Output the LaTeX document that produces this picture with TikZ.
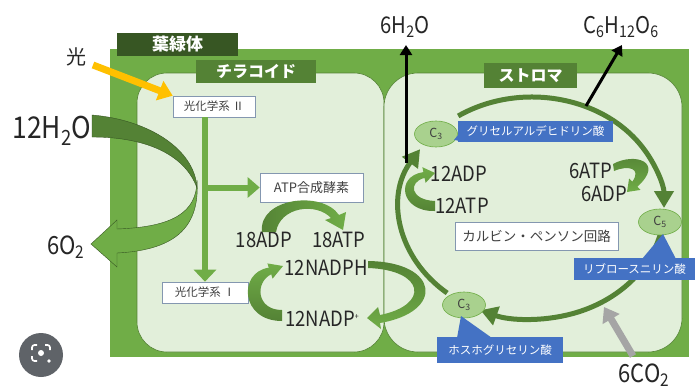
\documentclass[tikz,border=0pt]{standalone}
\usepackage{fontspec}
\setmainfont{Noto Sans CJK JP}
\newfontfamily\fm[FakeStretch=0.88]{Noto Sans CJK JP}
\usetikzlibrary{arrows.meta,calc,shapes.geometric}
\definecolor{gOuter}{HTML}{70AD47}
\definecolor{gDark}{HTML}{548235}
\definecolor{gDeep}{HTML}{375623}
\definecolor{gPale}{HTML}{E2EFDA}
\definecolor{gC}{HTML}{A9D18E}
\definecolor{bLab}{HTML}{4472C4}
\definecolor{txt}{HTML}{262626}
\definecolor{boxtxt}{HTML}{404040}
\definecolor{boxline}{HTML}{8497B0}
\definecolor{sun}{HTML}{FFC000}
\definecolor{coGray}{HTML}{A5A5A5}
\definecolor{lens}{HTML}{5F6368}
\tikzset{
  fml/.style={text=txt, inner sep=0pt, font=\fm\fontsize{#1}{#1}\selectfont},
  wbox/.style={draw=boxline, fill=white, line width=0.6pt, inner sep=0pt, text=boxtxt},
  greentag/.style={fill=#1, text=white, inner sep=0pt, font=\bfseries\fontsize{16}{16}\selectfont},
  bluetag/.style={fill=bLab, text=white, inner sep=0pt, font=\fontsize{11.5}{11.5}\selectfont},
  cnode/.style={ellipse, fill=gC, draw=gOuter, line width=0.6pt, minimum width=43pt, minimum height=26pt, inner sep=0pt, text=boxtxt, font=\fontsize{12.5}{12.5}\selectfont},
  cyc/.style={draw=gDark, line width=5pt, -{Triangle[length=17pt,width=19pt]}},
  gline/.style={draw=gOuter, line width=6pt},
  blk/.style={draw=black, line width=3pt, -{Triangle[length=10pt,width=12pt]}},
}
\begin{document}
\begin{tikzpicture}[x=1pt,y=-1pt]
\useasboundingbox (0,0) rectangle (699,388);
\fill[white] (0,0) rectangle (699,388);
% chloroplast and compartments
\fill[gOuter] (110,49) rectangle (689,357);
\filldraw[fill=gPale, draw=gDark, line width=0.6pt, rounded corners=30pt] (137,73) rectangle (384,352);
\filldraw[fill=gPale, draw=gDark, line width=0.6pt, rounded corners=34pt] (384,73) rectangle (682,352);
% labels
\node[greentag=gDeep, minimum width=121pt, minimum height=23pt, font=\bfseries\fontsize{17}{17}\selectfont] (chl) at (177.5,44.5) {葉緑体};
\node[greentag=gDark, minimum width=120pt, minimum height=23pt] (thy) at (256,71.5) {チラコイド};
\node[greentag=gDark, minimum width=93pt, minimum height=25pt] (str) at (530.5,75.5) {ストロマ};
% texts
\node[fml=20, font=\fontsize{20}{20}\selectfont] (light) at (76,57) {光};
\node[fml=30] (h2o12) at (52,131) {12H\textsubscript{2}O};
\node[fml=25] (o2) at (66,247) {6O\textsubscript{2}};
\node[fml=23] (h2o6) at (405,27) {6H\textsubscript{2}O};
\node[fml=23] (glc) at (621,27) {C\textsubscript{6}H\textsubscript{12}O\textsubscript{6}};
\node[fml=25] (co2) at (644,375) {6CO\textsubscript{2}};
% white boxes
\node[wbox, minimum width=82pt, minimum height=21pt, font=\fontsize{11.5}{11.5}\selectfont] (ps2) at (214,106.5) {光化学系 Ⅱ};
\node[wbox, minimum width=86pt, minimum height=21pt, font=\fontsize{11.5}{11.5}\selectfont] (ps1) at (205,292.5) {光化学系 Ⅰ};
\node[wbox, minimum width=103pt, minimum height=29pt, font=\fontsize{13}{13}\selectfont] (atp) at (311.5,187.5) {ATP合成酵素};
\node[wbox, minimum width=163pt, minimum height=28pt, font=\fontsize{13.5}{13.5}\selectfont] (calvin) at (536.5,236) {カルビン・ペンソン回路};
% H2O -> O2 curved arrow
\filldraw[fill=gOuter, draw=gDeep, line width=0.4pt] (197,180) .. controls (197,213) and (172,227) .. (117,229) -- (117,220) -- (91,244) -- (117,267) -- (117,253) .. controls (178,250) and (200,225) .. (197,180) -- cycle;
\filldraw[fill=gDark, draw=gDeep, line width=0.4pt] (92,115) .. controls (150,120) and (195,150) .. (197,188) .. controls (186,157) and (150,137) .. (92,137) -- cycle;
% light arrow
\coordinate (lightA) at (93,65);
\draw[draw=sun, line width=7pt, -{Triangle[length=14pt,width=20pt]}] (lightA) -- (ps2.north west);
% electron flow
\draw[gline, -{Triangle[length=12pt,width=22pt]}] (ps2.south -| ps1.north) -- (ps1.north);
\draw[gline, -{Triangle[length=12pt,width=20pt]}] (ps1.north |- atp.west) -- (atp.west);
% thylakoid texts
\node[fml=21] (adp18) at (264,240) {18ADP};
\node[fml=21] (atp18) at (339,240) {18ATP};
\node[fml=21] (nadph) at (326,268) {12NADPH};
\node[fml=21] (nadp) at (322,319) {12NADP\raisebox{7pt}{\fontsize{8}{8}\selectfont +}};
% small curved arrows (thylakoid)
\shade[left color=gDark, right color=gOuter] (262,232) .. controls (258,198) and (322,190) .. (339,215) -- (346,212) -- (343,230) -- (325,220) -- (331,218) .. controls (316,202) and (280,207) .. (276,232) -- cycle;
\shade[top color=gOuter, bottom color=gDark] (282,321) .. controls (240,321) and (238,272) .. (268.8,267.7) -- (267.4,263.4) -- (283,266) -- (272.6,278.6) -- (271.2,274.3) .. controls (255,282) and (256,310) .. (282,310) -- cycle;
\shade[top color=gDark, bottom color=gOuter] (368,261) .. controls (440,262) and (445,312) .. (380,323) -- (381,329) -- (367,318) -- (378,307) -- (380,315) .. controls (430,305) and (425,270) .. (368,268) -- cycle;
% Calvin cycle
\coordinate (cc) at (532,208);
\draw[cyc] ($(cc)+(130:132 and 111)$) arc[start angle=130, end angle=212, x radius=132, y radius=111];
\draw[cyc] ($(cc)+(236:132 and 111)$) arc[start angle=236, end angle=360, x radius=132, y radius=111];
\draw[cyc] ($(cc)+(12:132 and 111)$) arc[start angle=12, end angle=113, x radius=132, y radius=111];
% outputs
\coordinate (hs) at (406,163);
\coordinate (he) at (406,45);
\draw[blk] (hs) -- (he);
\coordinate (gs) at (586,106);
\coordinate (ge) at (622,45);
\draw[blk] (gs) -- (ge);
\coordinate (cs) at (633,356);
\coordinate (ce) at (604,307);
\draw[draw=coGray, line width=7pt, -{Triangle[length=14pt,width=19pt]}] (cs) -- (ce);
% stroma texts
\node[fml=21] (adp12) at (459,174) {12ADP};
\node[fml=21] (atp12) at (462,206) {12ATP};
\node[fml=21] (atp6) at (591,171) {6ATP};
\node[fml=21] (adp6) at (604,194) {6ADP};
\shade[top color=gOuter, bottom color=gDark] (435,211) .. controls (400,212) and (395,176) .. (423.4,172.1) -- (422.4,167.2) -- (435,173) -- (425.6,182.8) -- (424.6,177.9) .. controls (408,182) and (410,200) .. (435,201) -- cycle;
\shade[top color=gDark, bottom color=gOuter] (613,164) .. controls (635,152) and (665,162) .. (637.3,186.7) -- (640.5,189.9) -- (627,192) -- (629.1,178.5) -- (632.3,181.7) .. controls (642,168) and (628,165) .. (614,171) -- cycle;
% C3 / C5 nodes
\node[cnode] (c3a) at (436,134) {C\textsubscript{3}};
\node[cnode] (c5) at (660,222) {C\textsubscript{5}};
\node[cnode] (c3b) at (464,305) {C\textsubscript{3}};
% blue labels with pointers
\fill[bLab] (462,130) -- (454,140) -- (467,142) -- cycle;
\node[bluetag, minimum width=155pt, minimum height=21pt] (gly) at (535.5,131.5) {グリセルアルデヒドリン酸};
\fill[bLab] (642,259) -- (663,234) -- (676,259) -- cycle;
\node[bluetag, minimum width=121pt, minimum height=22pt] (rib) at (634.5,269) {リブロースニリン酸};
\fill[bLab] (457,338) -- (461,316) -- (492,338) -- cycle;
\node[bluetag, minimum width=126pt, minimum height=26pt] (pho) at (500,350) {ホスホグリセリン酸};
% lens overlay
\fill[lens] (41,355) circle[radius=22];
\draw[white, line width=1.7pt, rounded corners=2.5pt] (32,350) -- (32,345) -- (37,345);
\draw[white, line width=1.7pt, rounded corners=2.5pt] (45,345) -- (50,345) -- (50,350);
\draw[white, line width=1.7pt, rounded corners=2.5pt] (32,356) -- (32,361) -- (37,361);
\fill[white] (41,353) circle[radius=3];
\fill[white] (49,361) circle[radius=1.8];
\end{tikzpicture}
\end{document}
